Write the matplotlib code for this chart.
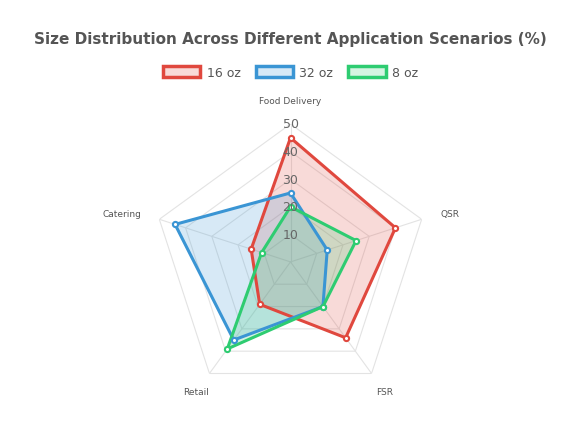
import numpy as np
import matplotlib
matplotlib.use("Agg")
import matplotlib.pyplot as plt
from matplotlib.patches import Patch

categories = ["Food Delivery", "QSR", "FSR", "Retail", "Catering"]
s16 = [45, 40, 34, 19, 15]
s32 = [25, 14, 20, 35, 44]
s8 = [20, 25, 20, 39, 11]
series = [("16 oz", s16, "#e0483e"), ("32 oz", s32, "#3a95d4"), ("8 oz", s8, "#2ecc71")]
ticks = [10, 20, 30, 40, 50]

fig = plt.figure(figsize=(5.81, 4.31), dpi=100)
ax = fig.add_axes([0.25, 0.07, 0.5, 0.64], projection="polar")
n = len(categories)
ang = np.linspace(0, 2*np.pi, n, endpoint=False)
ax.set_theta_offset(np.pi/2)
ax.set_theta_direction(-1)
ax.set_ylim(0, 50)
ax.grid(False)
ax.spines["polar"].set_visible(False)
ax.set_xticks([])
ax.set_yticks([])
ac = np.append(ang, ang[0])
for t in ticks:
    ax.plot(ac, [t]*(n+1), color="#e3e3e3", lw=0.8, zorder=0)
for a in ang:
    ax.plot([a, a], [0, 50], color="#e3e3e3", lw=0.8, zorder=0)
for label, vals, c in series:
    v = vals + vals[:1]
    ax.fill(ac, v, color=c, alpha=0.2, zorder=2)
    ax.plot(ac, v, color=c, lw=2.2, zorder=3)
    ax.scatter(ang, vals, s=14, color="white", edgecolor=c, linewidth=1.5, zorder=4)
for t in ticks:
    ax.text(0, t, str(t), ha="center", va="center", fontsize=9, color="#666666", zorder=5)
for a, cat in zip(ang, categories):
    if np.isclose(a, 0):
        ax.text(a, 57, cat, ha="center", va="bottom", fontsize=6.5, color="#555555")
    elif abs(np.cos(a)) < 0.5:
        ha = "left" if np.sin(a) > 0 else "right"
        ax.text(a, 57, cat, ha=ha, va="center", fontsize=6.5, color="#555555")
    else:
        ax.text(a, 58, cat, ha="center", va="center", fontsize=6.5, color="#555555")
fig.suptitle("Size Distribution Across Different Application Scenarios (%)", y=0.925,
             fontsize=11, fontweight="bold", color="#555555")
handles = [Patch(facecolor=c+"33", edgecolor=c, linewidth=2.5, label=l) for l, _, c in series]
fig.legend(handles=handles, loc="center", bbox_to_anchor=(0.5, 0.83), ncol=3, frameon=False,
           fontsize=9, handlelength=3, handleheight=1, columnspacing=1.2, handletextpad=0.5,
           labelcolor="#555555")
fig.savefig("out.png", dpi=100)
